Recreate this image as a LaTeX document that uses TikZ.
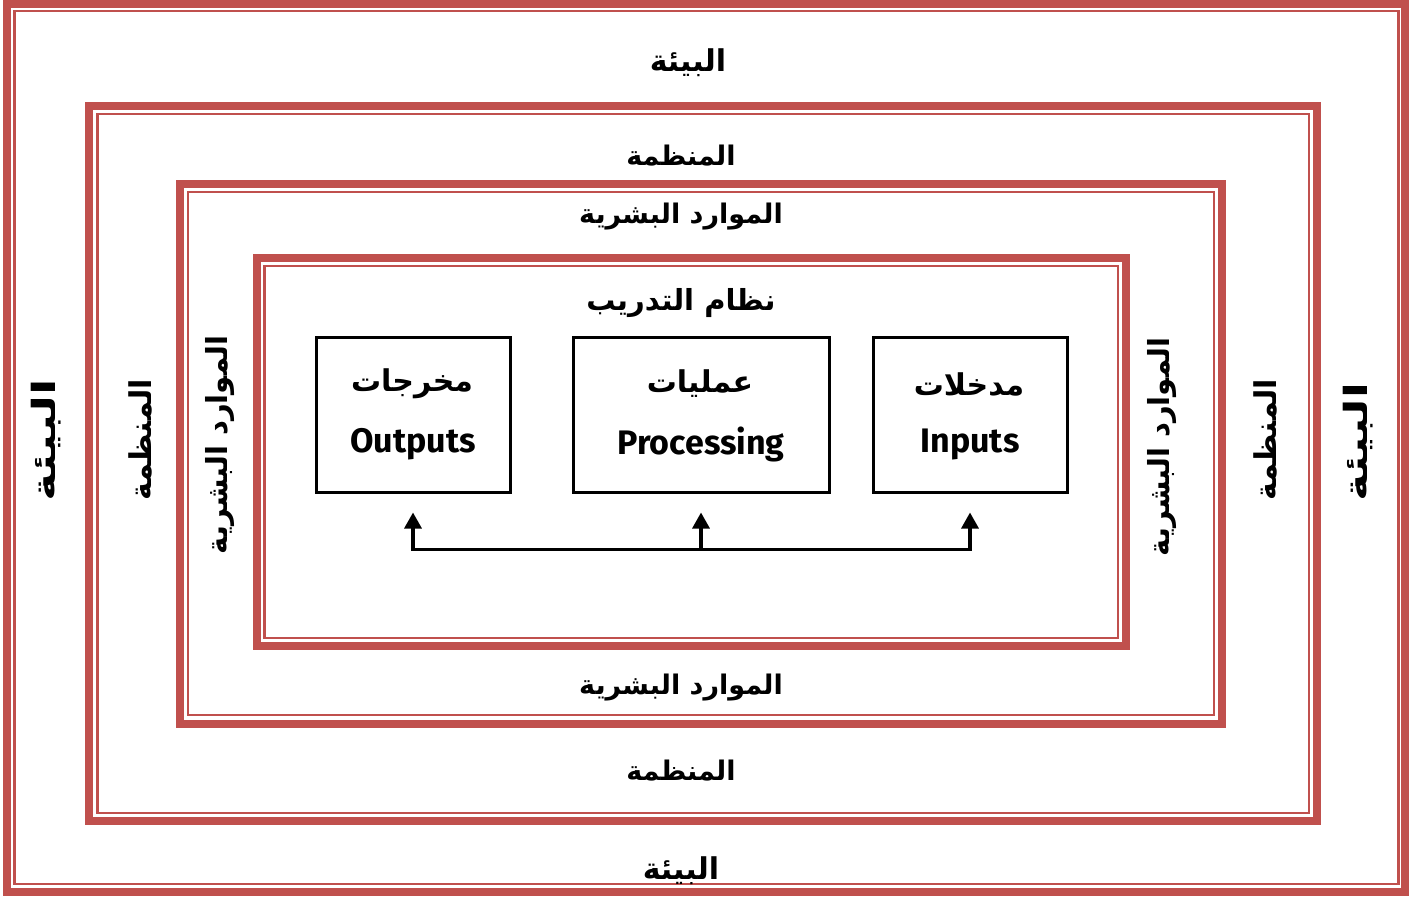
\documentclass[tikz,border=0pt]{standalone}
\usepackage{fontspec}
\usetikzlibrary{arrows.meta}
\TeXXeTstate=1
\newfontfamily\arabicfont[Script=Arabic]{DejaVu Sans}
\setmainfont{Fira Sans}
\definecolor{framered}{HTML}{C0504D}
\newcommand{\ar}[1]{{\arabicfont\bfseries\beginR #1\endR}}
\newcommand{\fsz}[1]{\fontsize{#1}{#1}\selectfont}
\begin{document}
\begin{tikzpicture}[x=1pt,y=-1pt,
  thickband/.style={draw=framered,line width=8pt},
  thinband/.style={draw=framered,line width=2.5pt},
  label/.style={inner sep=0pt,font=\fsz{27}},
  sidelabel/.style={label,rotate=90},
  latin/.style={inner sep=0pt,font=\fsz{34}\bfseries},
  stagebox/.style={draw=black,line width=3pt,minimum width=#1,minimum height=155pt,inner sep=0pt},
  flow/.style={draw=black,line width=3.2pt},
  flowarrow/.style={flow,-{Triangle[length=16pt,width=17pt]}}]
\useasboundingbox (0,0) rectangle (1415,897);
\fill[white] (0,0) rectangle (1415,897);

% nested double frames: thick outer band, thin inner band
\draw[thickband] (7,4) rectangle (1405,892);
\draw[thinband] (14.7,11.2) rectangle (1398.5,884);
\draw[thickband] (89,106) rectangle (1317,821);
\draw[thinband] (97.3,114) rectangle (1309,813);
\draw[thickband] (180,184) rectangle (1222,723.5);
\draw[thinband] (188,192) rectangle (1214,715);
\draw[thickband] (257,258) rectangle (1126,646);
\draw[thinband] (264.5,266) rectangle (1118,638);

% layer titles
\node[label,font=\fsz{30}] (envtop) at (688,63) {\ar{البيئة}};
\node[label,font=\fsz{30}] (envbot) at (681,871) {\ar{البيئة}};
\node[label] (orgtop) at (681,156) {\ar{المنظمة}};
\node[label] (orgbot) at (681,771) {\ar{المنظمة}};
\node[label] (hrtop) at (681,217) {\ar{الموارد البشرية}};
\node[label] (hrbot) at (681,688) {\ar{الموارد البشرية}};
\node[label,font=\fsz{29}] (train) at (681,303) {\ar{نظام التدريب}};

\node[sidelabel,font=\fsz{32},xscale=1.5] (envleft) at (46,440) {\ar{البيئة}};
\node[sidelabel,font=\fsz{30}] (orgleft) at (140,440) {\ar{المنظمة}};
\node[sidelabel,font=\fsz{29}] (hrleft) at (220,445) {\ar{الموارد البشرية}};
\node[sidelabel,font=\fsz{29}] (hrright) at (1162,447) {\ar{الموارد البشرية}};
\node[sidelabel,font=\fsz{30}] (orgright) at (1265,440) {\ar{المنظمة}};
\node[sidelabel,font=\fsz{32},xscale=1.45] (envright) at (1358,442) {\ar{البيئة}};

% system stages
\node[stagebox=194pt] (out) at (413,414.5) {};
\node[stagebox=256pt] (proc) at (701,414.5) {};
\node[stagebox=194pt] (in) at (970,414.5) {};

\node[label,font=\fsz{30}] (outar) at (412,384) {\ar{مخرجات}};
\node[label,font=\fsz{30}] (procar) at (700,384) {\ar{عمليات}};
\node[label,font=\fsz{30}] (inar) at (969,384) {\ar{مدخلات}};
\node[latin] (outen) at (413,444) {Outputs};
\node[latin] (procen) at (701,444) {Processing};
\node[latin] (inen) at (970,444) {Inputs};

% feedback line
\coordinate (fbout) at ([yshift=-56pt]out.south);
\coordinate (fbproc) at ([yshift=-56pt]proc.south);
\coordinate (fbin) at ([yshift=-56pt]in.south);
\draw[flow,line cap=rect] (fbout) -- (fbin);
\draw[flowarrow] (fbout) -- ([yshift=-19pt]out.south);
\draw[flowarrow] (fbproc) -- ([yshift=-19pt]proc.south);
\draw[flowarrow] (fbin) -- ([yshift=-19pt]in.south);
\end{tikzpicture}
\end{document}
